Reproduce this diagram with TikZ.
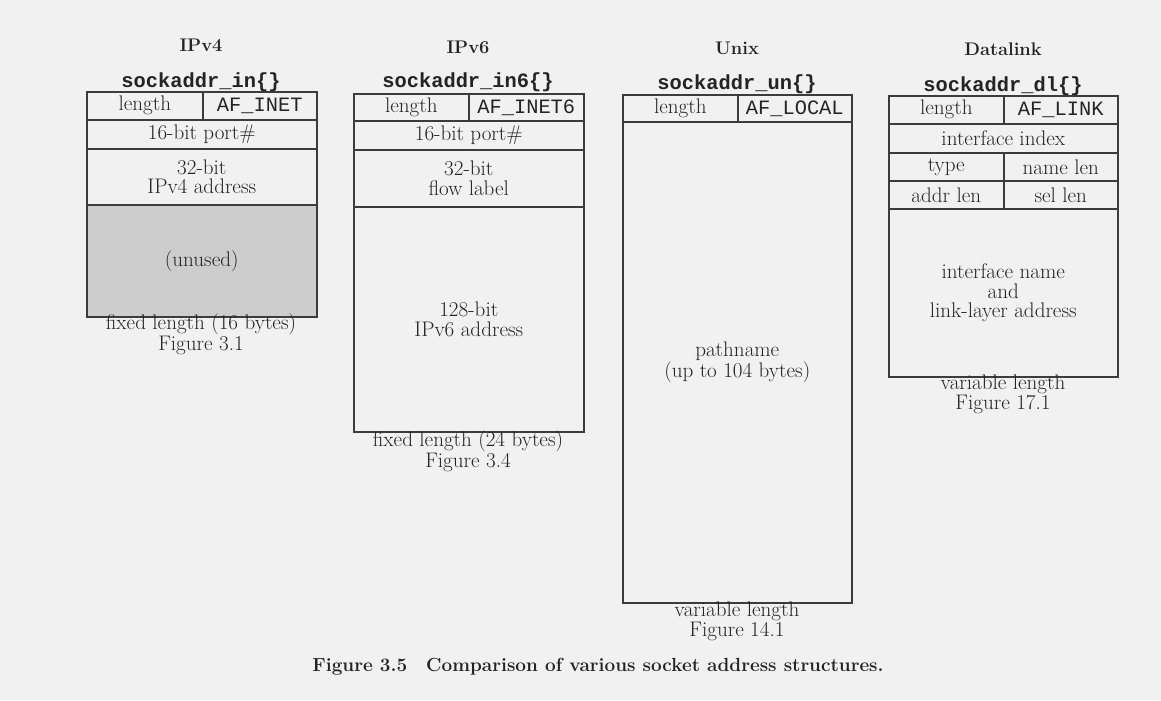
\documentclass[tikz,border=0pt]{standalone}
\usepackage{fontspec}
\setmonofont{Liberation Mono}
\usepackage{tikz}
\usetikzlibrary{positioning}
\definecolor{myPaper}{HTML}{F1F1F1}
\definecolor{myLine}{HTML}{3C3C3C}
\definecolor{myInk}{HTML}{242424}
\definecolor{myShade}{HTML}{CDCDCD}
\usepackage{xcolor}

\begin{document}
\begin{tikzpicture}[
  x=0.025cm, y=-0.025cm,
  cell/.style 2 args={draw=myLine, line width=1.1pt, anchor=north west,
              inner sep=0pt, minimum width=#1*0.025cm, minimum height=#2*0.025cm,
              font=\fontsize{15}{13.8}\selectfont, text=myInk, align=center},
  fam/.style={font=\ttfamily\fontsize{14.5}{14}\selectfont},
  family/.style={font=\bfseries\fontsize{13}{14}\selectfont, text=myInk},
  sname/.style={font=\ttfamily\bfseries\fontsize{14.5}{14}\selectfont, text=myInk},
  note/.style={font=\fontsize{15}{12.2}\selectfont, text=myInk, inner sep=0pt, align=center}
]
\fill[myPaper] (0,0) rectangle (1161,700);
\useasboundingbox (0,0) rectangle (1161,700);

\node[family] (v4title) at (201,45) {IPv4};
\node[sname]  (v4name)  at (201,82) {sockaddr\_in\{\}};
\node[cell={116}{28}] (v4len)  at (86,91)  {length};
\node[cell={114}{28}, fam] (v4fam) at (202,91) {AF\_INET};
\node[cell={230}{29}] (v4port) at (86,119) {16-bit port\#};
\node[cell={230}{56}] (v4addr) at (86,148) {32-bit\\IPv4 address};
\node[cell={230}{112}, fill=myShade] (v4pad) at (86,204) {(unused)};
\node[note] (v4note) at (201,334) {fixed length (16 bytes)\\Figure 3.1};

\node[family] (v6title) at (468,47) {IPv6};
\node[sname]  (v6name)  at (468,82) {sockaddr\_in6\{\}};
\node[cell={115}{27}] (v6len)  at (353,93)  {length};
\node[cell={115}{27}, fam] (v6fam) at (468,93) {AF\_INET6};
\node[cell={230}{29}] (v6port) at (353,120) {16-bit port\#};
\node[cell={230}{57}] (v6flow) at (353,149) {32-bit\\flow label};
\node[cell={230}{225}] (v6addr) at (353,206) {128-bit\\IPv6 address};
\node[note] (v6note) at (468,451) {fixed length (24 bytes)\\Figure 3.4};

\node[family] (untitle) at (737,48) {Unix};
\node[sname]  (unname)  at (737,84) {sockaddr\_un\{\}};
\node[cell={115}{27}] (unlen)  at (622,94)  {length};
\node[cell={114}{27}, fam] (unfam) at (737,94) {AF\_LOCAL};
\node[cell={229}{481}] (unpath) at (622,121) {pathname\\(up to 104 bytes)};
\node[note] (unnote) at (737,621) {variable length\\Figure 14.1};

\node[family] (dltitle) at (1003,49) {Datalink};
\node[sname]  (dlname)  at (1003,86) {sockaddr\_dl\{\}};
\node[cell={115}{28}] (dllen)  at (888,95)   {length};
\node[cell={114}{28}, fam] (dlfam) at (1003,95) {AF\_LINK};
\node[cell={229}{29}] (dlidx)  at (888,123)  {interface index};
\node[cell={115}{28}] (dltype) at (888,152)  {type};
\node[cell={114}{28}] (dlnlen) at (1003,152) {name len};
\node[cell={115}{28}] (dlalen) at (888,180)  {addr len};
\node[cell={114}{28}] (dlslen) at (1003,180) {sel len};
\node[cell={229}{168}] (dladdr) at (888,208) {interface name\\and\\link-layer address};
\node[note] (dlnote) at (1003,394) {variable length\\Figure 17.1};

\node[font=\bfseries\fontsize{13.5}{15}\selectfont, text=myInk] (caption) at (598,667)
  {Figure 3.5\quad Comparison of various socket address structures.};
\end{tikzpicture}
\end{document}
